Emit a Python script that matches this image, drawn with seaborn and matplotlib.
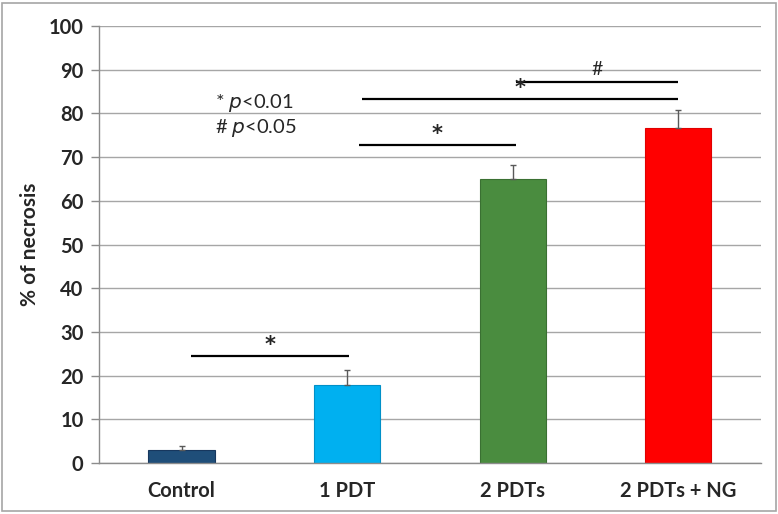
import matplotlib
matplotlib.use("Agg")
import matplotlib.pyplot as plt
import seaborn as sns
import pandas as pd
from matplotlib.patches import Rectangle

categories = ["Control", "1 PDT", "2 PDTs", "2 PDTs + NG"]
necrosis = [3.0, 17.8, 65.0, 76.6]
errors = [0.9, 3.4, 3.2, 4.1]
colors = ["#1F4E79", "#00B0F0", "#4A8C3F", "#FF0000"]
edge_colors = ["#17375E", "#0090C8", "#3A7032", "#E00000"]
yticks = list(range(0, 101, 10))

# significance brackets: (x_start, x_end, y, label)
sig_x0 = [0.06, 1.07, 1.09, 2.02]
sig_x1 = [1.01, 2.02, 3.0, 3.0]
sig_y = [24.5, 72.8, 83.3, 87.2]
sig_lab = ["*", "*", "*", "#"]

sns.set_theme(style="white")
plt.rcParams['font.family'] = ['Lato', 'DejaVu Sans']

fig = plt.figure(figsize=(7.78, 5.14), dpi=100)
ax = fig.add_axes([0.127, 0.0992, 0.851, 0.8502])

df = pd.DataFrame({"cat": categories, "val": necrosis})
sns.barplot(data=df, x="cat", y="val", hue="cat", palette=colors, legend=False,
            width=0.4, ax=ax, errorbar=None, linewidth=0.8, saturation=1)
for p, ec in zip(ax.patches, edge_colors):
    p.set_edgecolor(ec)

ax.errorbar(range(len(categories)), necrosis, yerr=[[0]*4, errors], fmt="none",
            ecolor="#595959", elinewidth=1.0, capsize=2.5, capthick=1.0, zorder=3)

ax.set_ylim(0, 100)
ax.set_xlim(-0.5, 3.5)
ax.set_yticks(yticks)
ax.set_yticklabels([str(t) for t in yticks], fontsize=14.5, fontweight="bold")
ax.set_xticks(range(4))
ax.set_xticklabels(categories, fontsize=14.5, fontweight="bold")
ax.set_xticks([-0.5, 0.5, 1.5, 2.5, 3.5], minor=True)
ax.tick_params(axis="x", which="major", length=0, pad=13)
ax.tick_params(axis="x", which="minor", length=6, color="#8C8C8C", width=1)
ax.tick_params(axis="y", which="major", length=6, color="#8C8C8C", width=1, left=True, pad=5)
ax.set_xlabel("")
ax.set_ylabel("% of necrosis", fontsize=15, fontweight="bold", labelpad=6)
ax.yaxis.grid(True, color="#A6A6A6", linewidth=1)
ax.set_axisbelow(True)
for s in ["top", "right"]:
    ax.spines[s].set_visible(False)
for s in ["left", "bottom"]:
    ax.spines[s].set_color("#8C8C8C")
    ax.spines[s].set_linewidth(1)

for x0, x1, y, lab in zip(sig_x0, sig_x1, sig_y, sig_lab):
    ax.plot([x0, x1], [y, y], color="black", linewidth=1.6, solid_capstyle="butt")
    if lab == "*":
        ax.text((x0 + x1) / 2, y + 0.3, lab, ha="center", va="bottom",
                fontsize=15, fontweight="bold", family="DejaVu Sans")
    else:
        ax.text((x0 + x1) / 2, y + 0.8, lab, ha="center", va="bottom", fontsize=14)

ax.text(0.2, 82.4, "* $\\it{p}$<0.01", fontsize=14.5, ha="left", va="center")
ax.text(0.2, 76.7, "# $\\it{p}$<0.05", fontsize=14.5, ha="left", va="center")

fig.patches.append(Rectangle((0.003, 0.006), 0.994, 0.988, transform=fig.transFigure,
                             fill=False, edgecolor="#A6A6A6", linewidth=1.2))

fig.savefig("out.png", dpi=100)
